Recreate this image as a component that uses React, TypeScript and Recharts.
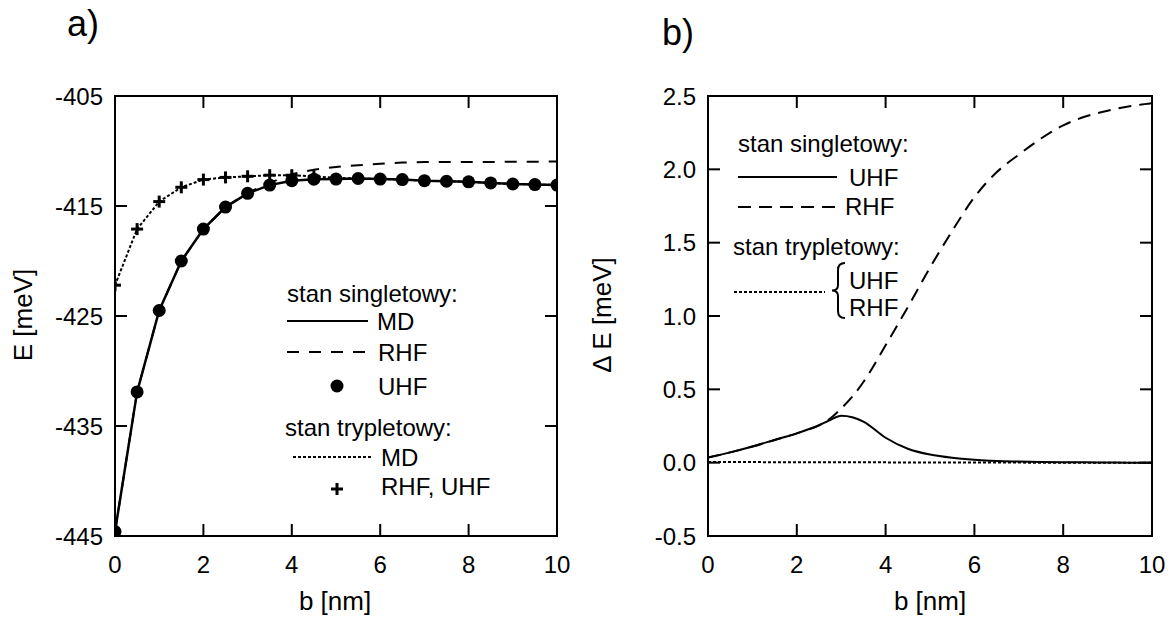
import { ComposedChart, Line, Scatter, XAxis, YAxis, ReferenceArea } from "recharts";

const FONT = '"Liberation Sans", Arial, Helvetica, sans-serif';

// ---- panel a) E [meV] vs b [nm]
const bA = [0, 0.5, 1, 1.5, 2, 2.5, 3, 3.5, 4, 4.5, 5, 5.5, 6, 6.5, 7, 7.5, 8, 8.5, 9, 9.5, 10];
const singletUhfA = [
  -444.6, -431.9, -424.5, -420.0, -417.1, -415.1, -413.85, -413.1, -412.7, -412.56, -412.55,
  -412.5, -412.55, -412.6, -412.7, -412.75, -412.8, -412.9, -413.0, -413.05, -413.1,
];
const singletMdA = [
  -444.6, -431.9, -424.5, -420.0, -417.1, -415.1, -413.85, -413.1, -412.7, -412.56, -412.55,
  -412.5, -412.55, -412.6, -412.7, -412.75, -412.8, -412.9, -413.0, -413.05, -413.1,
];
const singletRhfA = [
  -444.6, -431.9, -424.5, -420.0, -417.1, -415.1, -413.8, -412.9, -412.1, -411.7, -411.45,
  -411.3, -411.15, -411.05, -411.0, -411.0, -411.0, -411.0, -410.98, -410.97, -410.96,
];
const tripletMdA = [
  -422.2, -417.1, -414.6, -413.3, -412.6, -412.4, -412.3, -412.2, -412.2, -412.3, -412.45,
  -412.5, -412.55, -412.6, -412.7, -412.75, -412.8, -412.9, -413.0, -413.05, -413.1,
];
const bTripA = [0, 0.5, 1, 1.5, 2, 2.5, 3, 3.5, 4, 4.5];
const tripletHfA = [-422.2, -417.1, -414.6, -413.3, -412.6, -412.4, -412.3, -412.2, -412.2, -412.3];
const xTicks = [0, 2, 4, 6, 8, 10];
const yTicksA = [-445, -435, -425, -415, -405];

// ---- panel b) ΔE [meV] vs b [nm]
const bB = [0, 0.5, 1, 1.5, 2, 2.5, 2.75, 3, 3.25, 3.5, 4, 4.5, 5, 5.5, 6, 6.5, 7, 7.5, 8, 8.5, 9, 9.5, 10];
const singletUhfB = [
  0.035, 0.07, 0.11, 0.155, 0.2, 0.255, 0.29, 0.32, 0.31, 0.28, 0.17, 0.095, 0.055, 0.033, 0.02,
  0.012, 0.008, 0.005, 0.003, 0.002, 0.001, 0.0, 0.0,
];
const singletRhfB = [
  0.035, 0.07, 0.11, 0.155, 0.2, 0.255, 0.3, 0.37, 0.45, 0.55, 0.8, 1.06, 1.33, 1.58, 1.81,
  1.98, 2.1, 2.21, 2.3, 2.36, 2.4, 2.43, 2.45,
];
const bTripB = [0, 2, 4, 6, 8, 10];
const tripletB = [0.005, 0.003, 0.002, 0.001, 0.0, 0.0];
const yTicksB = [-0.5, 0, 0.5, 1, 1.5, 2, 2.5];

const pts = (xs: number[], ys: number[]) => xs.map((x, i) => ({ x, y: ys[i] }));

const txt = { fontSize: 24, fontFamily: FONT, fill: "#000" };
const TICK = 12;

// plot box (inside each chart's own svg)
type Box = { left: number; right: number; top: number; bottom: number };

const makeBottomTick = (b: Box) => (p: any) => (
  <g stroke="#000" strokeWidth={2}>
    <line x1={p.x} x2={p.x} y1={b.bottom} y2={b.bottom - TICK} />
    <line x1={p.x} x2={p.x} y1={b.top} y2={b.top + TICK} />
    <text x={p.x} y={b.bottom + 37} textAnchor="middle" stroke="none" {...txt}>
      {p.payload.value}
    </text>
  </g>
);
const makeLeftTick = (b: Box, fmt: (v: number) => string) => (p: any) => (
  <g stroke="#000" strokeWidth={2}>
    <line x1={b.left} x2={b.left + TICK} y1={p.y} y2={p.y} />
    <line x1={b.right} x2={b.right - TICK} y1={p.y} y2={p.y} />
    <text x={b.left - 12} y={p.y + 8.5} textAnchor="end" stroke="none" {...txt}>
      {fmt(p.payload.value)}
    </text>
  </g>
);

const Dot = (p: any) => <circle cx={p.cx} cy={p.cy} r={6.5} fill="#000" />;
const Cross = (p: any) => (
  <g stroke="#000" strokeWidth={3}>
    <line x1={p.cx - 6} x2={p.cx + 6} y1={p.cy} y2={p.cy} />
    <line x1={p.cx} x2={p.cx} y1={p.cy - 6} y2={p.cy + 6} />
  </g>
);

function Axes({ box, yDomain, yTicks, fmt }: any) {
  return [
    <XAxis key="xb" xAxisId="b" dataKey="x" type="number" domain={[0, 10]} allowDataOverflow
      ticks={xTicks} interval={0} height={83} tickLine={false} axisLine={false}
      tick={makeBottomTick(box)} />,
    <YAxis key="yl" yAxisId="l" dataKey="y" type="number" domain={yDomain} allowDataOverflow
      ticks={yTicks} interval={0} width={box.left} tickLine={false} axisLine={false}
      tick={makeLeftTick(box, fmt)} />,
    <ReferenceArea key="frame" xAxisId="b" yAxisId="l" x1={0} x2={10} y1={yDomain[0]} y2={yDomain[1]}
      fill="none" fillOpacity={0} stroke="#000" strokeWidth={2} ifOverflow="visible" />,
  ];
}

function Overlay() {
  const t = { fontFamily: FONT, fill: "#000" };
  return (
    <svg width={1173} height={619} style={{ position: "absolute", left: 0, top: 0, pointerEvents: "none" }}>
      <text x={83} y={36} textAnchor="middle" fontSize={36} {...t}>a)</text>
      <text x={678} y={45} textAnchor="middle" fontSize={36} {...t}>b)</text>
      <text x={32} y={315} transform="rotate(-90 32 315)" textAnchor="middle" fontSize={26} {...t}>E [meV]</text>
      <text x={611} y={315} transform="rotate(-90 611 315)" textAnchor="middle" fontSize={26} {...t}>Δ E [meV]</text>
      <text x={335} y={610} textAnchor="middle" fontSize={26} {...t}>b [nm]</text>
      <text x={930} y={610} textAnchor="middle" fontSize={26} {...t}>b [nm]</text>

      {/* legend a */}
      <g fontSize={24} {...t}>
        <text x={287} y={302}>stan singletowy:</text>
        <line x1={287} x2={368} y1={321} y2={321} stroke="#000" strokeWidth={2} />
        <text x={377} y={330}>MD</text>
        <line x1={287} x2={368} y1={352} y2={352} stroke="#000" strokeWidth={2} strokeDasharray="12 10" />
        <text x={378} y={361}>RHF</text>
        <circle cx={337} cy={386} r={6.5} fill="#000" />
        <text x={378} y={395}>UHF</text>
        <text x={285} y={436}>stan trypletowy:</text>
        <line x1={293} x2={373} y1={457} y2={457} stroke="#000" strokeWidth={2} strokeDasharray="3 2" />
        <text x={381} y={466}>MD</text>
        <g stroke="#000" strokeWidth={3}>
          <line x1={331} x2={343} y1={489} y2={489} />
          <line x1={337} x2={337} y1={483} y2={495} />
        </g>
        <text x={381} y={495}>RHF, UHF</text>
      </g>

      {/* legend b */}
      <g fontSize={24} {...t}>
        <text x={738} y={152}>stan singletowy:</text>
        <line x1={738} x2={837} y1={177} y2={177} stroke="#000" strokeWidth={2} />
        <text x={849} y={186}>UHF</text>
        <line x1={738} x2={837} y1={207} y2={207} stroke="#000" strokeWidth={2} strokeDasharray="13 8" />
        <text x={845} y={215}>RHF</text>
        <text x={733} y={255}>stan trypletowy:</text>
        <line x1={734} x2={825} y1={292} y2={292} stroke="#000" strokeWidth={2} strokeDasharray="3 2" />
        <path d="M845,263 Q838,263 838,270 L838,285 Q838,290.5 832,290.5 Q838,290.5 838,296 L838,311 Q838,318 845,318"
          fill="none" stroke="#000" strokeWidth={2} />
        <text x={849} y={289}>UHF</text>
        <text x={849} y={316}>RHF</text>
      </g>
    </svg>
  );
}

const boxA: Box = { left: 115, right: 557, top: 96, bottom: 536 };
const boxB: Box = { left: 108, right: 552, top: 96, bottom: 536 };

export default function App() {
  return (
    <div style={{ position: "absolute", left: 0, top: 0, width: 1173, height: 619, background: "#fff" }}>
      <div style={{ position: "absolute", left: 0, top: 0 }}>
        <ComposedChart width={600} height={619} margin={{ top: 96, right: 43, bottom: 0, left: 0 }}>
          {Axes({ box: boxA, yDomain: [-445, -405], yTicks: yTicksA, fmt: (v: number) => String(v) })}
          <Line xAxisId="b" yAxisId="l" data={pts(bA, singletRhfA)} dataKey="y" type="linear"
            stroke="#000" strokeWidth={2} strokeDasharray="12 10" dot={false} activeDot={false} isAnimationActive={false} />
          <Line xAxisId="b" yAxisId="l" data={pts(bA, tripletMdA)} dataKey="y" type="linear"
            stroke="#000" strokeWidth={2} strokeDasharray="3 2" dot={false} activeDot={false} isAnimationActive={false} />
          <Line xAxisId="b" yAxisId="l" data={pts(bA, singletMdA)} dataKey="y" type="linear"
            stroke="#000" strokeWidth={2.5} dot={false} activeDot={false} isAnimationActive={false} />
          <Scatter xAxisId="b" yAxisId="l" data={pts(bA, singletUhfA)} shape={Dot} isAnimationActive={false} />
          <Scatter xAxisId="b" yAxisId="l" data={pts(bTripA, tripletHfA)} shape={Cross} isAnimationActive={false} />
        </ComposedChart>
      </div>
      <div style={{ position: "absolute", left: 600, top: 0 }}>
        <ComposedChart width={573} height={619} margin={{ top: 96, right: 21, bottom: 0, left: 0 }}>
          {Axes({ box: boxB, yDomain: [-0.5, 2.5], yTicks: yTicksB, fmt: (v: number) => v.toFixed(1) })}
          <Line xAxisId="b" yAxisId="l" data={pts(bTripB, tripletB)} dataKey="y" type="monotone"
            stroke="#000" strokeWidth={2} strokeDasharray="3 2" dot={false} activeDot={false} isAnimationActive={false} />
          <Line xAxisId="b" yAxisId="l" data={pts(bB, singletRhfB)} dataKey="y" type="monotone"
            stroke="#000" strokeWidth={2} strokeDasharray="13 8" dot={false} activeDot={false} isAnimationActive={false} />
          <Line xAxisId="b" yAxisId="l" data={pts(bB, singletUhfB)} dataKey="y" type="monotone"
            stroke="#000" strokeWidth={2} dot={false} activeDot={false} isAnimationActive={false} />
        </ComposedChart>
      </div>
      <Overlay />
    </div>
  );
}
